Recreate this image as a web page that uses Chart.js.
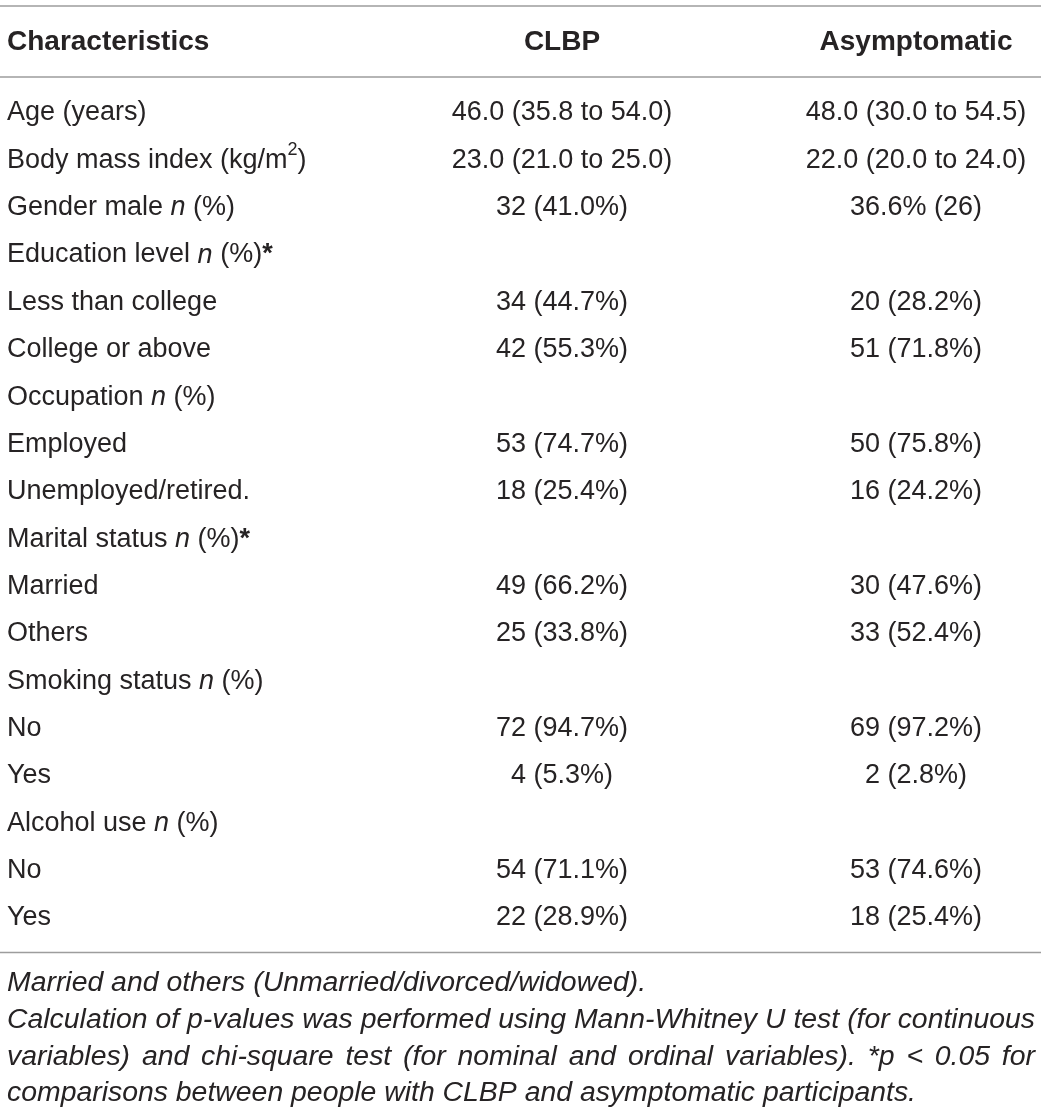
<!DOCTYPE html>
<html>
<head>
<meta charset="utf-8">
<script src="https://cdn.jsdelivr.net/npm/chart.js@4"></script>
<style>
  html, body { margin: 0; padding: 0; background: #fff; }
  #table-chart { display: block; }
</style>
</head>
<body>
<canvas id="table-chart" width="1041" height="1113"></canvas>
<script>
// Table of participant characteristics, drawn as a Chart.js scatter chart
// Markup in strings: {i:..} italic, {b:..} bold, {sup:..} superscript

const columnHeaders = ['Characteristics', 'CLBP', 'Asymptomatic'];

const rowLabels = [
    'Age (years)',
    'Body mass index (kg/m{sup:2})',
    'Gender male {i:n} (%)',
    'Education level {i:n} (%){b:*}',
    'Less than college',
    'College or above',
    'Occupation {i:n} (%)',
    'Employed',
    'Unemployed/retired.',
    'Marital status {i:n} (%){b:*}',
    'Married',
    'Others',
    'Smoking status {i:n} (%)',
    'No',
    'Yes',
    'Alcohol use {i:n} (%)',
    'No',
    'Yes'
];

const clbpValues = [
    '46.0 (35.8 to 54.0)', '23.0 (21.0 to 25.0)', '32 (41.0%)', '',
    '34 (44.7%)', '42 (55.3%)', '',
    '53 (74.7%)', '18 (25.4%)', '',
    '49 (66.2%)', '25 (33.8%)', '',
    '72 (94.7%)', '4 (5.3%)', '',
    '54 (71.1%)', '22 (28.9%)'
];

const asymptomaticValues = [
    '48.0 (30.0 to 54.5)', '22.0 (20.0 to 24.0)', '36.6% (26)', '',
    '20 (28.2%)', '51 (71.8%)', '',
    '50 (75.8%)', '16 (24.2%)', '',
    '30 (47.6%)', '33 (52.4%)', '',
    '69 (97.2%)', '2 (2.8%)', '',
    '53 (74.6%)', '18 (25.4%)'
];

const footnoteLines = [
    'Married and others (Unmarried/divorced/widowed).',
    'Calculation of p-values was performed using Mann-Whitney U test (for continuous',
    'variables) and chi-square test (for nominal and ordinal variables). *p < 0.05 for',
    'comparisons between people with CLBP and asymptomatic participants.'
];
const footnoteJustify = [false, true, true, false];

// ─── Layout (x in pixels of a 0..1041 scale, y in row units) ──────────────

const COL_X = { label: 7, clbp: 562, asym: 916 };
const HEADER_ROW = -1.5;
const RULE_ROWS = [-2.26, -0.76, 17.73];
const FOOT_START = 18.37;
const FOOT_STEP = 0.78;
const FONT = '"Liberation Sans", Arial, sans-serif';
const TEXT_COLOR = '#262324';
const BODY_SIZE = 27;
const HEAD_SIZE = 28;
const FOOT_SIZE = 28.4;

// ─── Rich text helpers ─────────────────────────────────────────────────────

function parseRich(str) {
    const parts = [];
    const re = /\{(i|b|sup):([^}]*)\}/g;
    let last = 0, m;
    while ((m = re.exec(str)) !== null) {
        if (m.index > last) parts.push({ t: str.slice(last, m.index), s: '' });
        parts.push({ t: m[2], s: m[1] });
        last = re.lastIndex;
    }
    if (last < str.length) parts.push({ t: str.slice(last), s: '' });
    return parts;
}

function segFont(seg, size, base) {
    if (seg.s === 'i') return `italic ${base} ${size}px ${FONT}`;
    if (seg.s === 'b') return `bold ${size}px ${FONT}`;
    if (seg.s === 'sup') return `${base} ${Math.round(size * 0.65)}px ${FONT}`;
    return `${base} ${size}px ${FONT}`;
}

function drawRich(ctx, str, x, y, align, size, base) {
    const parts = parseRich(str);
    let total = 0;
    parts.forEach(p => { ctx.font = segFont(p, size, base); p.w = ctx.measureText(p.t).width; total += p.w; });
    let cx = align === 'center' ? x - total / 2 : x;
    parts.forEach(p => {
        ctx.font = segFont(p, size, base);
        ctx.fillText(p.t, cx, p.s === 'sup' ? y - size * 0.38 : y);
        cx += p.w;
    });
}

function drawJustified(ctx, line, x0, x1, y) {
    const words = line.split(' ');
    const widths = words.map(w => ctx.measureText(w).width);
    const sum = widths.reduce((a, b) => a + b, 0);
    const gap = (x1 - x0 - sum) / (words.length - 1);
    let cx = x0;
    words.forEach((w, i) => { ctx.fillText(w, cx, y); cx += widths[i] + gap; });
}

// ─── Cell text plugin ──────────────────────────────────────────────────────

const cellTextPlugin = {
    id: 'cellText',
    afterDatasetsDraw(chart) {
        const ctx = chart.ctx;
        const yScale = chart.scales.y;
        ctx.save();
        ctx.fillStyle = TEXT_COLOR;
        ctx.textBaseline = 'middle';
        ctx.textAlign = 'left';
        chart.data.datasets.forEach((ds, di) => {
            if (!ds.cellText) return;
            const meta = chart.getDatasetMeta(di);
            meta.data.forEach((el, i) => {
                const raw = ds.data[i];
                if (!raw.text) return;
                drawRich(ctx, raw.text, el.x, el.y, ds.cellAlign,
                         raw.header ? HEAD_SIZE : BODY_SIZE, raw.header ? 'bold' : 'normal');
            });
        });
        // footnotes
        ctx.font = `italic ${FOOT_SIZE}px ${FONT}`;
        footnoteLines.forEach((line, i) => {
            const y = yScale.getPixelForValue(FOOT_START + i * FOOT_STEP);
            if (footnoteJustify[i]) drawJustified(ctx, line, COL_X.label, 1035, y);
            else ctx.fillText(line, COL_X.label, y);
        });
        ctx.restore();
    }
};

// ─── Datasets ──────────────────────────────────────────────────────────────

function cellColumn(header, values, x) {
    return [{ x: x, y: HEADER_ROW, text: header, header: true }]
        .concat(values.map((v, i) => ({ x: x, y: i, text: v })));
}

function ruleDataset(row) {
    return {
        type: 'line',
        data: [{ x: 0, y: row }, { x: 1041, y: row }],
        borderColor: '#9d9d9d',
        borderWidth: 1.5,
        pointRadius: 0,
        fill: false
    };
}

const datasets = [
    ...RULE_ROWS.map(ruleDataset),
    { data: cellColumn(columnHeaders[0], rowLabels, COL_X.label), cellText: true, cellAlign: 'left', pointRadius: 0 },
    { data: cellColumn(columnHeaders[1], clbpValues, COL_X.clbp), cellText: true, cellAlign: 'center', pointRadius: 0 },
    { data: cellColumn(columnHeaders[2], asymptomaticValues, COL_X.asym), cellText: true, cellAlign: 'center', pointRadius: 0 }
];

// ─── Chart ─────────────────────────────────────────────────────────────────

new Chart(document.getElementById('table-chart').getContext('2d'), {
    type: 'scatter',
    data: { datasets },
    options: {
        responsive: false,
        animation: false,
        events: [],
        layout: { padding: 0 },
        scales: {
            x: { type: 'linear', min: 0, max: 1041, display: false },
            y: { type: 'linear', min: -2.386, max: 21.12, reverse: true, display: false }
        },
        plugins: { legend: { display: false }, tooltip: { enabled: false } }
    },
    plugins: [cellTextPlugin]
});
</script>
</body>
</html>
